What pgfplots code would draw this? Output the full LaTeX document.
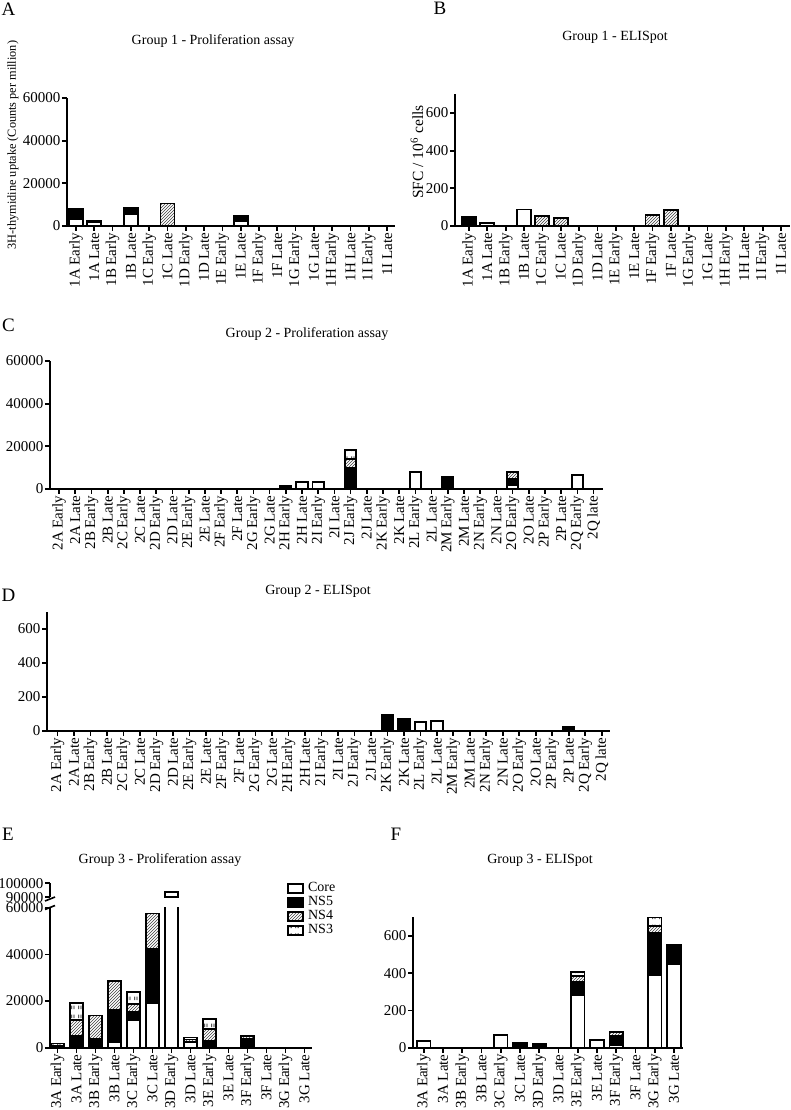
\documentclass[border=0pt]{standalone}
\usepackage{fontspec}
\setmainfont{Liberation Serif}
\usepackage{pgfplots}
\pgfplotsset{compat=1.18}
\usepackage{pgfplotstable}
\usetikzlibrary{patterns}

% NS3: white with short vertical dashes
\pgfdeclarepatternformonly{ns3}{\pgfqpoint{0pt}{0pt}}{\pgfqpoint{7pt}{9pt}}{\pgfqpoint{7pt}{9pt}}{%
  \pgfsetlinewidth{0.9pt}%
  \pgfpathmoveto{\pgfqpoint{2pt}{2pt}}\pgfpathlineto{\pgfqpoint{2pt}{6pt}}%
  \pgfpathmoveto{\pgfqpoint{4.5pt}{2pt}}\pgfpathlineto{\pgfqpoint{4.5pt}{6pt}}%
  \pgfusepath{stroke}}

\pgfplotsset{
  panel/.style={
    scale only axis,
    axis lines*=left,
    axis line style={line width=2.3pt},
    every tick/.style={line width=1.7pt, black},
    major tick length=5pt,
    tick align=outside,
    ybar stacked,
    ymin=0,
    xticklabel style={rotate=90, anchor=east, font=\fontsize{15}{15}\selectfont, inner sep=1.5pt},
    yticklabel style={font=\fontsize{15}{15}\selectfont, inner sep=1.5pt},
    /pgf/number format/assume math mode=true,
    /pgf/number format/fixed,
    /pgf/number format/precision=0,
    /pgf/number format/1000 sep={},
    scaled y ticks=false,
  },
  core/.style={fill=white, draw=black, line width=1.8pt},
  ns5/.style={fill=black, draw=black, line width=1.8pt},
  ns4/.style={draw=black, line width=1.8pt, pattern=north east lines, pattern color=black!75},
  ns3/.style={draw=black, line width=1.8pt, pattern=ns3},
}

\def\labelsOne{1A Early,1A Late,1B Early,1B Late,1C Early,1C Late,1D Early,1D Late,1E Early,1E Late,1F Early,1F Late,1G Early,1G Late,1H Early,1H Late,1I Early,1I Late}
\def\labelsTwo{2A Early,2A Late,2B Early,2B Late,2C Early,2C Late,2D Early,2D Late,2E Early,2E Late,2F Early,2F Late,2G Early,2G Late,2H Early,2H Late,2I Early,2I Late,2J Early,2J Late,2K Early,2K Late,2L Early,2L Late,2M Early,2M Late,2N Early,2N Late,2O Early,2O Late,2P Early,2P Late,2Q Early,2Q late}
\def\labelsThree{3A Early,3A Late,3B Early,3B Late,3C Early,3C Late,3D Early,3D Late,3E Early,3E Late,3F Early,3F Late,3G Early,3G Late}

% group 1 proliferation (counts per million)
\pgfplotstableread{
x Core NS5 NS4 NS3
0 3300 4700 0 0
1 1800 0 0 700
2 0 0 0 0
3 5500 3200 0 0
4 0 0 0 0
5 0 0 10500 0
6 0 0 0 0
7 0 0 0 0
8 0 0 0 0
9 2500 2200 0 0
10 0 0 0 0
11 0 0 0 0
12 0 0 0 0
13 0 0 0 0
14 0 0 0 0
15 0 0 0 0
16 0 0 0 0
17 0 0 0 0
}\groupAprol

% group 1 ELISpot
\pgfplotstableread{
x Core NS5 NS4 NS3
0 10 36 0 0
1 16 0 0 0
2 0 0 0 0
3 88 0 0 0
4 0 0 55 0
5 0 0 44 0
6 0 0 0 0
7 0 0 0 0
8 0 0 0 0
9 0 0 0 0
10 0 0 60 0
11 0 0 83 0
12 0 0 0 0
13 0 0 0 0
14 0 0 0 0
15 0 0 0 0
16 0 0 0 0
17 0 0 0 0
}\groupAeli

% group 2 proliferation
\pgfplotstableread{
x Core NS5 NS4 NS3
14 500 900 0 0
15 3100 0 0 0
16 3400 0 0 0
18 0 9700 4300 4300
22 8100 0 0 0
24 0 4500 0 1000
28 1800 2800 3500 0
32 6400 0 0 0
}\groupBprol

% group 2 ELISpot
\pgfplotstableread{
x Core NS5 NS4 NS3
20 0 96 0 0
21 0 73 0 0
22 53 0 0 0
23 59 0 0 0
31 0 24 0 0
}\groupBeli

% group 3 proliferation
\pgfplotstableread{
x Core NS5 NS4 NS3
0 600 0 0 1200
1 0 5000 7000 7200
2 0 3700 10100 0
3 2500 13700 12300 0
4 11800 3500 3500 5100
5 19000 23500 15000 0
6 94000 0 0 0
7 2600 0 900 900
8 0 2800 5300 4300
10 0 3900 1200 0
}\groupCprol

% part of 3D Early above the axis break
\pgfplotstableread{
x base top
6 90000 4000
}\groupCtop

% group 3 ELISpot
\pgfplotstableread{
x Core NS5 NS4 NS3
0 34 0 0 0
4 67 0 0 0
5 0 27 0 0
6 8 0 14 0
8 281 72 30 24
9 41 0 0 0
10 14 49 22 0
12 391 223 40 46
13 448 103 0 0
}\groupCeli

\begin{document}
\begin{tikzpicture}[x=1pt,y=1pt]
\useasboundingbox (0,0) rectangle (790,1110);

% ---- A
\begin{axis}[panel, at={(67pt,884pt)}, anchor=south west,
  width=328pt, height=128pt, xmin=-0.49, xmax=17.43, ymax=60000,
  ytick={0,20000,40000,60000}, xtick={0,...,17}, xticklabels/.expand once=\labelsOne,
  bar width=14pt]
\addplot[core] table[x=x,y=Core]{\groupAprol};
\addplot[ns5] table[x=x,y=NS5]{\groupAprol};
\addplot[ns4] table[x=x,y=NS4]{\groupAprol};
\addplot[ns3] table[x=x,y=NS3]{\groupAprol};
\end{axis}

% ---- B
\begin{axis}[panel, at={(455pt,884pt)}, anchor=south west,
  width=335pt, height=131.8pt, xmin=-0.76, xmax=17.49, ymax=700,
  ytick={0,200,400,600}, xtick={0,...,17}, xticklabels/.expand once=\labelsOne,
  bar width=14pt]
\addplot[core] table[x=x,y=Core]{\groupAeli};
\addplot[ns5] table[x=x,y=NS5]{\groupAeli};
\addplot[ns4] table[x=x,y=NS4]{\groupAeli};
\addplot[ns3] table[x=x,y=NS3]{\groupAeli};
\end{axis}

% ---- C
\begin{axis}[panel, at={(50pt,621pt)}, anchor=south west,
  width=553pt, height=128pt, xmin=-0.56, xmax=33.58, ymax=60000,
  ytick={0,20000,40000,60000}, xtick={0,...,33}, xticklabels/.expand once=\labelsTwo,
  bar width=11.5pt]
\addplot[core] table[x=x,y=Core]{\groupBprol};
\addplot[ns5] table[x=x,y=NS5]{\groupBprol};
\addplot[ns4] table[x=x,y=NS4]{\groupBprol};
\addplot[ns3] table[x=x,y=NS3]{\groupBprol};
\end{axis}

% ---- D
\begin{axis}[panel, at={(47pt,379pt)}, anchor=south west,
  width=563pt, height=119pt, xmin=-0.64, xmax=33.5, ymax=700,
  ytick={0,200,400,600}, xtick={0,...,33}, xticklabels/.expand once=\labelsTwo,
  bar width=11.5pt]
\addplot[core] table[x=x,y=Core]{\groupBeli};
\addplot[ns5] table[x=x,y=NS5]{\groupBeli};
\addplot[ns4] table[x=x,y=NS4]{\groupBeli};
\addplot[ns3] table[x=x,y=NS3]{\groupBeli};
\end{axis}

% ---- E (lower part of broken axis)
\begin{axis}[panel, at={(50pt,62.3pt)}, anchor=south west,
  width=262pt, height=140pt, xmin=-0.39, xmax=13.39, ymax=60000,
  ytick={0,20000,40000,60000}, xtick={0,...,13}, xticklabels/.expand once=\labelsThree,
  bar width=13pt,
  legend style={at={(rel axis cs:0.905,1.19)}, anchor=north west, draw=none, fill=none,
    font=\fontsize{14}{14}\selectfont, row sep=0pt, inner sep=0pt,
    nodes={inner xsep=4pt, inner ysep=0pt, text height=10pt, text depth=4pt}},
  legend cell align=left,
  legend image code/.code={\draw[#1, line width=1.8pt] (0pt,-4.5pt) rectangle (15pt,4.5pt);}]
\addplot[core] table[x=x,y=Core]{\groupCprol};
\addplot[ns5] table[x=x,y=NS5]{\groupCprol};
\addplot[ns4] table[x=x,y=NS4]{\groupCprol};
\addplot[ns3] table[x=x,y=NS3]{\groupCprol};
\legend{Core,NS5,NS4,NS3}
\end{axis}

% ---- E (upper part of broken axis)
\begin{axis}[panel, at={(50pt,212.7pt)}, anchor=south west,
  width=262pt, height=14pt, xmin=-0.39, xmax=13.39, ymin=90000, ymax=100000,
  ytick={90000,100000}, xtick=\empty, axis x line=none, axis y line*=left,
  bar width=13pt, clip=false]
\addplot[draw=none, fill=none] table[x=x,y=base]{\groupCtop};
\addplot[core] table[x=x,y=top]{\groupCtop};
\end{axis}
\draw[line width=1.6pt] (45,200.5) -- (55,204.5);
\draw[line width=1.6pt] (45,209) -- (55,213);

% ---- F
\begin{axis}[panel, at={(413pt,62.3pt)}, anchor=south west,
  width=270pt, height=130.4pt, xmin=-0.56, xmax=13.47, ymax=700,
  ytick={0,200,400,600}, xtick={0,...,13}, xticklabels/.expand once=\labelsThree,
  bar width=13.5pt]
\addplot[core] table[x=x,y=Core]{\groupCeli};
\addplot[ns5] table[x=x,y=NS5]{\groupCeli};
\addplot[ns4] table[x=x,y=NS4]{\groupCeli};
\addplot[ns3] table[x=x,y=NS3]{\groupCeli};
\end{axis}

% titles, axis titles, panel letters
\begin{scope}[every node/.style={font=\fontsize{14}{14}\selectfont}]
\node at (213,1069) {Group 1 - Proliferation assay};
\node at (615,1073) {Group 1 - ELISpot};
\node at (307,776) {Group 2 - Proliferation assay};
\node at (318,519) {Group 2 - ELISpot};
\node at (160,250) {Group 3 - Proliferation assay};
\node at (540,250) {Group 3 - ELISpot};
\end{scope}
\node[rotate=90, font=\fontsize{12.3}{12.3}\selectfont] at (13,965) {3H-thymidine uptake (Counts per million)};
\node[rotate=90, font=\fontsize{15.5}{15.5}\selectfont] at (417,958) {SFC / 10\textsuperscript{6} cells};
\begin{scope}[every node/.style={font=\fontsize{19}{19}\selectfont}]
\node at (8.5,1100.5) {A};
\node at (440,1101.5) {B};
\node at (8.5,784.5) {C};
\node at (8.5,515) {D};
\node at (8,275.5) {E};
\node at (396,275.5) {F};
\end{scope}
\end{tikzpicture}
\end{document}
